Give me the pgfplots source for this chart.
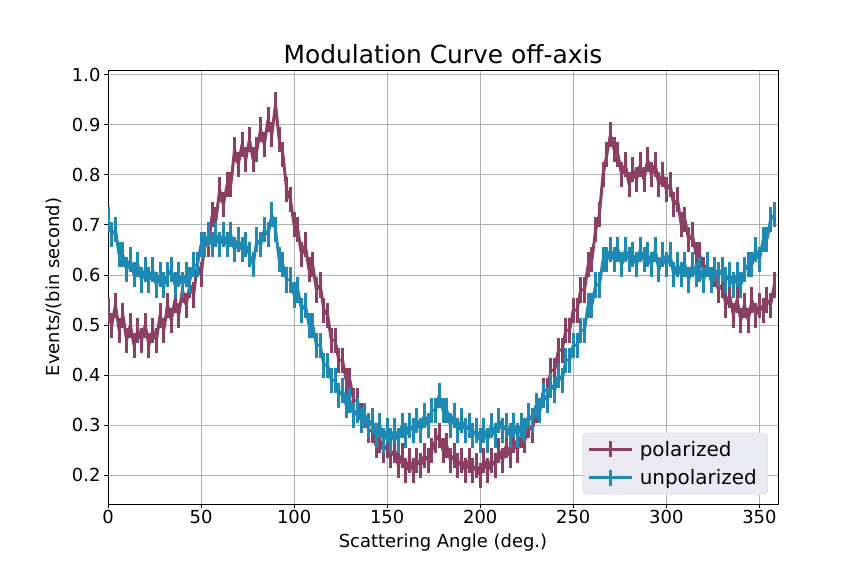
\documentclass[border=0pt]{standalone}
\usepackage{pgfplots}
\usepackage{pgfplotstable}
\pgfplotsset{compat=1.18}
\usepackage{fontspec}
\setmainfont{DejaVu Sans}
\definecolor{pol}{RGB}{138,63,99}
\definecolor{unp}{RGB}{30,138,180}
\definecolor{legbg}{RGB}{234,234,242}
\definecolor{gridc}{RGB}{176,176,176}
\pgfplotstableread{
x p u
0 0.53 0.71
2 0.50 0.68
4 0.54 0.69
6 0.49 0.64
8 0.52 0.64
10 0.47 0.61
12 0.50 0.63
14 0.46 0.60
16 0.49 0.62
18 0.47 0.59
20 0.50 0.61
22 0.46 0.59
24 0.49 0.61
26 0.47 0.58
28 0.52 0.60
30 0.49 0.58
32 0.54 0.60
34 0.51 0.61
36 0.55 0.58
38 0.52 0.60
40 0.57 0.58
42 0.54 0.60
44 0.58 0.59
46 0.56 0.62
48 0.62 0.62
50 0.60 0.66
52 0.66 0.66
54 0.66 0.68
56 0.72 0.66
58 0.71 0.68
60 0.77 0.66
62 0.74 0.68
64 0.78 0.66
66 0.78 0.68
68 0.85 0.65
70 0.82 0.67
72 0.86 0.65
74 0.83 0.66
76 0.87 0.64
78 0.83 0.62
80 0.85 0.67
82 0.89 0.66
84 0.86 0.69
86 0.91 0.68
88 0.88 0.72
90 0.94 0.69
92 0.87 0.63
94 0.84 0.62
96 0.77 0.59
98 0.75 0.59
100 0.70 0.56
102 0.69 0.57
104 0.64 0.53
106 0.66 0.54
108 0.61 0.50
110 0.62 0.50
112 0.57 0.46
114 0.58 0.46
116 0.53 0.42
118 0.52 0.42
120 0.47 0.39
122 0.47 0.39
124 0.43 0.36
126 0.43 0.37
128 0.39 0.34
130 0.39 0.35
132 0.35 0.32
134 0.35 0.33
136 0.32 0.31
138 0.32 0.32
140 0.29 0.30
142 0.29 0.31
144 0.26 0.28
146 0.27 0.30
148 0.25 0.27
150 0.26 0.29
152 0.24 0.27
154 0.25 0.29
156 0.22 0.27
158 0.24 0.30
160 0.21 0.28
162 0.23 0.30
164 0.21 0.29
166 0.23 0.31
168 0.22 0.29
170 0.24 0.32
172 0.23 0.30
174 0.25 0.33
176 0.27 0.33
178 0.28 0.36
180 0.25 0.33
182 0.26 0.33
184 0.23 0.30
186 0.24 0.32
188 0.22 0.29
190 0.23 0.31
192 0.21 0.29
194 0.23 0.30
196 0.21 0.28
198 0.22 0.29
200 0.20 0.27
202 0.23 0.29
204 0.21 0.27
206 0.23 0.30
208 0.22 0.28
210 0.25 0.31
212 0.23 0.29
214 0.26 0.30
216 0.24 0.28
218 0.27 0.30
220 0.25 0.28
222 0.28 0.30
224 0.27 0.29
226 0.30 0.32
228 0.29 0.31
230 0.33 0.34
232 0.33 0.33
234 0.37 0.36
236 0.37 0.35
238 0.41 0.38
240 0.41 0.37
242 0.45 0.40
244 0.45 0.39
246 0.49 0.43
248 0.49 0.43
250 0.53 0.46
252 0.53 0.46
254 0.57 0.49
256 0.57 0.49
258 0.62 0.54
260 0.63 0.54
262 0.69 0.58
264 0.72 0.58
266 0.80 0.63
268 0.84 0.63
270 0.88 0.65
272 0.85 0.63
274 0.84 0.65
276 0.80 0.62
278 0.82 0.65
280 0.78 0.63
282 0.81 0.64
284 0.79 0.62
286 0.82 0.65
288 0.79 0.63
290 0.83 0.64
292 0.80 0.62
294 0.82 0.65
296 0.78 0.61
298 0.80 0.64
300 0.77 0.62
302 0.78 0.64
304 0.74 0.60
306 0.75 0.62
308 0.70 0.60
310 0.71 0.62
312 0.67 0.59
314 0.68 0.62
316 0.64 0.60
318 0.64 0.61
320 0.61 0.59
322 0.62 0.62
324 0.59 0.59
326 0.60 0.61
328 0.57 0.60
330 0.58 0.61
332 0.54 0.59
334 0.56 0.60
336 0.52 0.58
338 0.55 0.60
340 0.51 0.58
342 0.54 0.61
344 0.51 0.62
346 0.55 0.62
348 0.52 0.65
350 0.54 0.63
352 0.53 0.67
354 0.55 0.67
356 0.54 0.71
358 0.58 0.72
}\datatable
\begin{document}
\begin{tikzpicture}[x=1bp,y=1bp]
\path[use as bounding box] (0,0) rectangle (864,576);
\begin{axis}[
  at={(108bp,72bp)}, anchor=south west,
  scale only axis, width=670bp, height=434bp,
  xmin=0, xmax=360, ymin=0.143, ymax=1.009,
  xtick={0,50,100,150,200,250,300,350},
  ytick={0.2,0.3,0.4,0.5,0.6,0.7,0.8,0.9,1.0},
  xtick pos=bottom, ytick pos=left,
  grid=major, grid style={color=gridc, line width=0.8bp},
  axis line style={line width=0.8bp, black},
  tick align=outside, major tick length=4bp,
  tick style={black, line width=0.8bp},
  /pgf/number format/assume math mode=true,
  ticklabel style={font=\fontsize{18}{21}\selectfont},
  xticklabel style={yshift=1bp},
  yticklabel style={/pgf/number format/.cd, fixed, fixed zerofill, precision=1},
  title={Modulation Curve off-axis},
  title style={font=\fontsize{25}{30}\selectfont, yshift=-3bp},
  xlabel={Scattering Angle (deg.)},
  ylabel={Events/(bin second)},
  label style={font=\fontsize{18}{21}\selectfont},
  xlabel style={yshift=-3bp},
  ylabel style={yshift=3bp},
  legend style={at={(0.985,0.022)}, anchor=south east, fill=legbg, draw=gridc!60,
    rounded corners=4bp, font=\fontsize{20}{24}\selectfont, inner xsep=5bp, inner ysep=6bp,
    row sep=8bp, nodes={inner xsep=6bp}},
  legend cell align=left,
  legend image code/.code={
    \draw[#1, line width=3bp] (0bp,0bp) -- (43bp,0bp);
    \draw[#1, line width=3bp] (21.5bp,-8bp) -- (21.5bp,8bp);
  },
]
\addplot[pol, line width=3bp, line join=round,
  error bars/.cd, y dir=both, y fixed=0.025, error mark=none,
  error bar style={line width=3bp, pol}]
  table[x=x, y=p] {\datatable};
\addlegendentry{polarized}
\addplot[unp, line width=3bp, line join=round,
  error bars/.cd, y dir=both, y fixed=0.025, error mark=none,
  error bar style={line width=3bp, unp}]
  table[x=x, y=u] {\datatable};
\addlegendentry{unpolarized}
\end{axis}
\end{tikzpicture}
\end{document}
